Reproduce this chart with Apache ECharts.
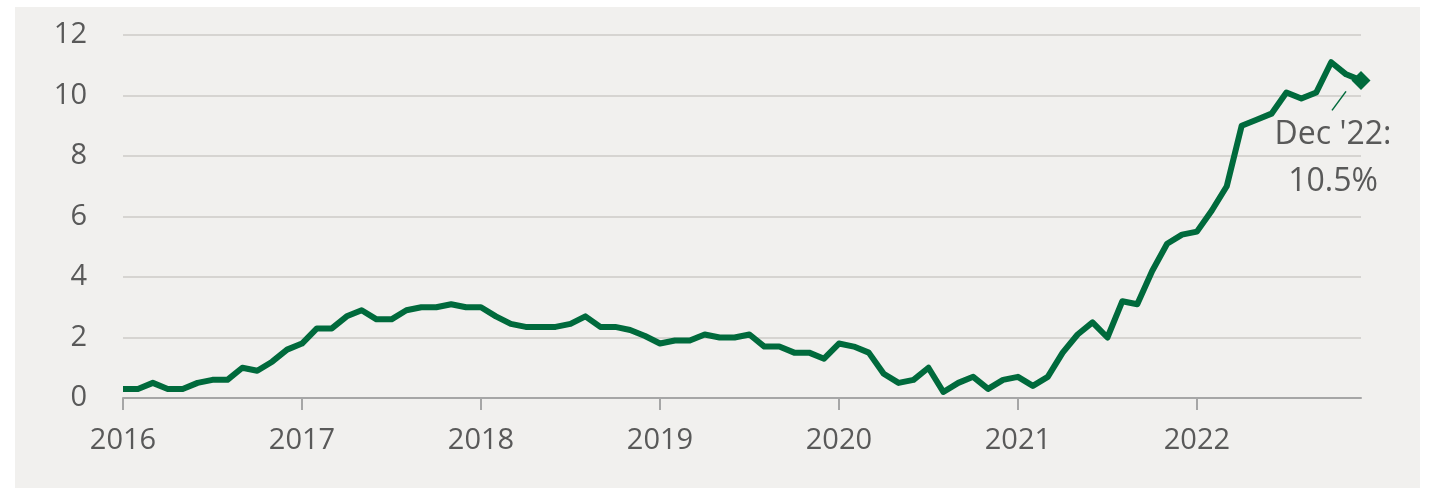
<!DOCTYPE html>
<html>
<head>
<meta charset="utf-8">
<script src="https://cdn.jsdelivr.net/npm/echarts@6/dist/echarts.min.js"></script>
<style>
  html, body { margin: 0; padding: 0; background: #ffffff; }
  #panel { position: absolute; left: 15px; top: 7px; width: 1405px; height: 481px; background: #f1f0ee; }
  #chart { position: absolute; left: 0; top: 0; width: 1430px; height: 489px; }
</style>
</head>
<body>
<div id="panel"></div>
<div id="chart"></div>
<script>
const years = ['2016', '2017', '2018', '2019', '2020', '2021', '2022'];
const months = ['Jan','Feb','Mar','Apr','May','Jun','Jul','Aug','Sep','Oct','Nov','Dec'];
const inflation2016 = [0.3, 0.3, 0.5, 0.3, 0.3, 0.5, 0.6, 0.6, 1.0, 0.9, 1.2, 1.6];
const inflation2017 = [1.8, 2.3, 2.3, 2.7, 2.9, 2.6, 2.6, 2.9, 3.0, 3.0, 3.1, 3.0];
const inflation2018 = [3.0, 2.7, 2.45, 2.35, 2.35, 2.35, 2.45, 2.7, 2.35, 2.35, 2.25, 2.05];
const inflation2019 = [1.8, 1.9, 1.9, 2.1, 2.0, 2.0, 2.1, 1.7, 1.7, 1.5, 1.5, 1.3];
const inflation2020 = [1.8, 1.7, 1.5, 0.8, 0.5, 0.6, 1.0, 0.2, 0.5, 0.7, 0.3, 0.6];
const inflation2021 = [0.7, 0.4, 0.7, 1.5, 2.1, 2.5, 2.0, 3.2, 3.1, 4.2, 5.1, 5.4];
const inflation2022 = [5.5, 6.2, 7.0, 9.0, 9.2, 9.4, 10.1, 9.9, 10.1, 11.1, 10.7, 10.5];
const yTicks = [0, 2, 4, 6, 8, 10, 12];
const annotationLines = ["Dec '22:", '10.5%'];

const seriesValues = [].concat(inflation2016, inflation2017, inflation2018, inflation2019,
  inflation2020, inflation2021, inflation2022);
const categories = [];
years.forEach(y => months.forEach(m => categories.push(m + ' ' + y)));
const lastIdx = categories.length - 1;

const fontFamily = '"Open Sans", "Noto Sans", sans-serif';
const textColor = '#595959';
const green = '#006a3c';

const chart = echarts.init(document.getElementById('chart'), null, { renderer: 'canvas' });
chart.setOption({
  backgroundColor: 'transparent',
  animation: false,
  grid: { left: 123, right: 69, top: 35, bottom: 91, containLabel: false },
  xAxis: {
    type: 'category',
    data: categories,
    boundaryGap: false,
    axisLine: { show: true, lineStyle: { color: '#a6a6a6', width: 2 } },
    axisTick: {
      show: true, length: 12, lineStyle: { color: '#a6a6a6', width: 2 },
      interval: (i) => i % 12 === 0
    },
    axisLabel: {
      interval: (i) => i % 12 === 0,
      formatter: (v) => v.split(' ')[1],
      color: textColor, fontSize: 29, fontFamily: fontFamily, margin: 28
    },
    splitLine: { show: false }
  },
  yAxis: {
    type: 'value',
    min: yTicks[0], max: yTicks[yTicks.length - 1], interval: 2,
    axisLine: { show: false },
    axisTick: { show: false },
    axisLabel: { color: textColor, fontSize: 29, fontFamily: fontFamily, margin: 36 },
    splitLine: { show: true, lineStyle: { color: '#d6d4d1', width: 2 } }
  },
  series: [{
    type: 'line',
    data: seriesValues,
    showSymbol: false,
    symbol: 'none',
    lineStyle: { color: green, width: 6, join: 'round' },
    z: 3,
    markPoint: {
      symbol: 'diamond',
      symbolSize: [19, 19],
      itemStyle: { color: green },
      label: { show: false },
      data: [{ coord: [lastIdx, seriesValues[lastIdx]] }]
    }
  }]
});

const p = chart.convertToPixel({ seriesIndex: 0 }, [lastIdx, seriesValues[lastIdx]]);
chart.setOption({
  graphic: [
    { type: 'line', shape: { x1: p[0] - 29, y1: p[1] + 30, x2: p[0] - 15, y2: p[1] + 11 },
      style: { stroke: green, lineWidth: 1.5 } },
    { type: 'text', x: p[0] - 28, y: p[1] + 55,
      style: { text: annotationLines[0], fontSize: 32, fontFamily: fontFamily, fill: textColor,
               align: 'center', verticalAlign: 'middle' } },
    { type: 'text', x: p[0] - 28, y: p[1] + 102,
      style: { text: annotationLines[1], fontSize: 32, fontFamily: fontFamily, fill: textColor,
               align: 'center', verticalAlign: 'middle' } }
  ]
});
</script>
</body>
</html>
